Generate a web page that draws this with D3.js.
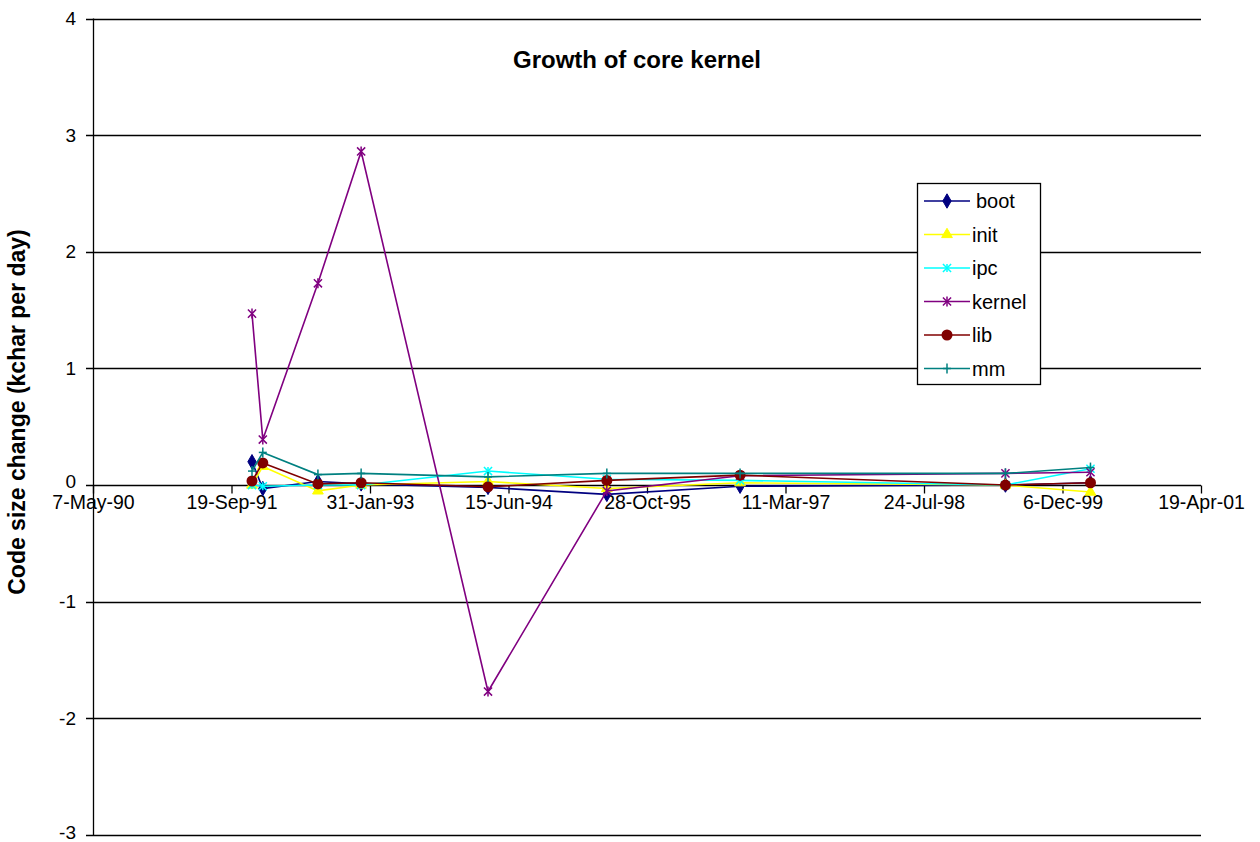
<!DOCTYPE html>
<html><head><meta charset="utf-8">
<script src="https://cdn.jsdelivr.net/npm/d3@7"></script>
<style>body{margin:0;background:#fff}svg{display:block;font-family:Arial,"Liberation Sans",sans-serif}</style>
</head><body><svg id="c" width="1260" height="842"></svg>
<script>
const dates = ["1991-12-02","1992-01-10","1992-07-27","1992-12-30","1994-04-02","1995-06-05","1996-09-28","1999-05-14","2000-03-16"];
const boot   = [0.20, -0.03, 0.03, 0.01, -0.02, -0.08, -0.01, 0.00, 0.02];
const init   = [0.00, 0.16, -0.05, 0.00, 0.03, -0.03, 0.02, 0.00, -0.06];
const ipc    = [0.00, -0.01, 0.00, 0.00, 0.12, 0.05, 0.04, 0.00, 0.14];
const kernel = [1.47, 0.39, 1.73, 2.86, -1.77, -0.05, 0.08, 0.10, 0.11];
const lib    = [0.035, 0.19, 0.01, 0.02, -0.015, 0.04, 0.085, 0.00, 0.02];
const mm     = [0.12, 0.28, 0.09, 0.10, 0.07, 0.10, 0.10, 0.10, 0.15];
const xTickLabels = ["7-May-90","19-Sep-91","31-Jan-93","15-Jun-94","28-Oct-95","11-Mar-97","24-Jul-98","6-Dec-99","19-Apr-01"];
const yTicks = [4,3,2,1,0,-1,-2,-3];
const seriesNames = ["boot","init","ipc","kernel","lib","mm"];
const seriesColors = ["#000080","#FFFF00","#00FFFF","#800080","#800000","#008080"];
const seriesValues = [boot, init, ipc, kernel, lib, mm];
const title = "Growth of core kernel";
const yLabel = "Code size change (kchar per day)";

const svg = d3.select("#c");
const parse = d3.utcParse("%Y-%m-%d");
const tickDates = xTickLabels.map(s => d3.utcParse("%d-%b-%y")(s));
const x = d3.scaleUtc().domain([tickDates[0], tickDates[tickDates.length-1]]).range([93, 1201]);
const y = d3.scaleLinear().domain([-3, 4]).range([835, 18.5]);

// gridlines
svg.append("g").selectAll("line").data(yTicks).join("line")
  .attr("x1", 86).attr("x2", 1201)
  .attr("y1", d => Math.round(y(d)) + 0.5).attr("y2", d => Math.round(y(d)) + 0.5)
  .attr("stroke", "#000").attr("stroke-width", 1.3);
// y axis line
svg.append("line").attr("x1", 93.5).attr("x2", 93.5).attr("y1", y(4)).attr("y2", y(-3)).attr("stroke", "#000").attr("stroke-width",1.3);
// y labels
svg.append("g").selectAll("text").data(yTicks).join("text")
  .attr("x", 76).attr("y", d => y(d) - (d === -3 ? 2 : 0) - (d === 0 ? 4 : 0)).attr("dy", "0.34em").attr("text-anchor", "end")
  .attr("font-size", 19).attr("fill", "#000").text(d => d);
// x ticks at zero line
const xAxis = d3.axisBottom(x).tickValues(tickDates).tickSize(8).tickFormat((d,i) => xTickLabels[i]);
const gx = svg.append("g").attr("transform", `translate(0,${Math.round(y(0)) + 0.5})`).call(xAxis);
gx.select(".domain").remove();
gx.selectAll(".tick line").attr("stroke", "#000").attr("stroke-width", 1.3);
gx.selectAll(".tick text").attr("font-size", 19.5).attr("font-family", "Arial, 'Liberation Sans', sans-serif").attr("fill", "#000").attr("y", 10);

// title
svg.append("text").attr("x", 637).attr("y", 68).attr("text-anchor", "middle")
  .attr("font-size", 24).attr("font-weight", "bold").text(title);
// y label
svg.append("text").attr("transform", "translate(25,412) rotate(-90)").attr("text-anchor", "middle")
  .attr("font-size", 23).attr("font-weight", "bold").text(yLabel);

function marker(g, i, color) {
  if (i === 0) g.append("path").attr("d", d3.symbol(d3.symbolDiamond, 60)()).attr("fill", color).attr("stroke", color);
  else if (i === 1) g.append("path").attr("d", d3.symbol(d3.symbolTriangle, 50)()).attr("fill", color).attr("stroke", color);
  else if (i === 2) { g.append("path").attr("d", d3.symbol(d3.symbolTimes, 45)()).attr("fill", "none").attr("stroke", color).attr("stroke-width", 1.5);
    g.append("line").attr("y1",-4).attr("y2",4).attr("stroke", color).attr("stroke-width",1.5); }
  else if (i === 3) { g.append("path").attr("d", d3.symbol(d3.symbolTimes, 45)()).attr("fill", "none").attr("stroke", color).attr("stroke-width", 1.5);
    g.append("line").attr("y1",-5).attr("y2",5).attr("stroke", color).attr("stroke-width",1.5); }
  else if (i === 4) g.append("circle").attr("r", 5.5).attr("fill", color);
  else { g.append("line").attr("y1",-5).attr("y2",5).attr("stroke", color).attr("stroke-width",1.5);
    g.append("line").attr("x1",-4).attr("x2",4).attr("stroke", color).attr("stroke-width",1.5); }
}

const line = d3.line().x(d => x(d[0])).y(d => y(d[1]));
seriesValues.forEach((vals, i) => {
  const pts = dates.map((d, j) => [parse(d), vals[j]]);
  const g = svg.append("g");
  g.append("path").datum(pts).attr("d", line).attr("fill", "none")
    .attr("stroke", seriesColors[i]).attr("stroke-width", 1.6);
  pts.forEach(p => {
    const m = g.append("g").attr("transform", `translate(${x(p[0])},${y(p[1])})`);
    marker(m, i, seriesColors[i]);
  });
});

// legend
const lg = svg.append("g");
lg.append("rect").attr("x", 917.5).attr("y", 183.5).attr("width", 123).attr("height", 201)
  .attr("fill", "#fff").attr("stroke", "#000").attr("stroke-width", 1.3);
seriesNames.forEach((n, i) => {
  const yy = 201 + i * 33.5;
  lg.append("line").attr("x1", 924).attr("x2", 970).attr("y1", yy).attr("y2", yy)
    .attr("stroke", seriesColors[i]).attr("stroke-width", 1.6);
  const m = lg.append("g").attr("transform", `translate(947,${yy})`);
  marker(m, i, seriesColors[i]);
  lg.append("text").attr("x", i === 0 ? 976 : 972).attr("y", yy).attr("dy", "0.36em")
    .attr("font-size", 20).text(n);
});
</script></body></html>
